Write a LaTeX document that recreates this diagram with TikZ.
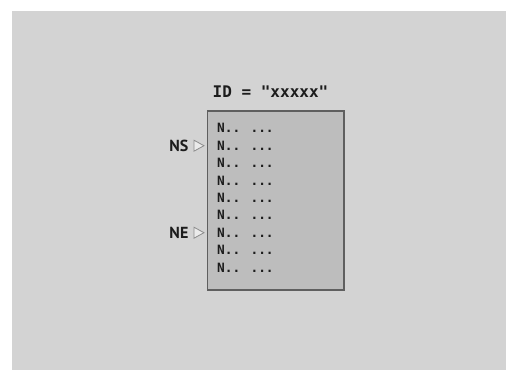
\documentclass[tikz,border=0pt]{standalone}
\usepackage{fontspec}
\usepackage{xcolor}
\usepackage{tikz}
\usetikzlibrary{positioning,shapes.geometric}
\newfontfamily\prgmono{DejaVu Sans Mono}
\newfontfamily\labsans{PT Sans}
\definecolor{bggray}{HTML}{D3D3D3}
\definecolor{boxgray}{HTML}{BDBDBD}
\definecolor{edgegray}{HTML}{5F5F5F}
\definecolor{inkgray}{HTML}{1C1C1C}
\definecolor{markgray}{HTML}{8C8C8C}

\begin{document}
\begin{tikzpicture}[
    x=1pt,y=-1pt,
    prgbox/.style={draw=edgegray,line width=1.3pt,fill=boxgray,minimum width=136.5pt,minimum height=179pt,inner sep=0pt},
    prgline/.style={inner sep=0pt,anchor=west,text=inkgray,font=\prgmono\bfseries\fontsize{12.8pt}{14pt}\selectfont},
    title/.style={inner sep=0pt,text=inkgray,font=\prgmono\bfseries\fontsize{16pt}{18pt}\selectfont},
    marker/.style={isosceles triangle,isosceles triangle stretches,draw=markgray,fill=white!92!black,line width=0.8pt,minimum width=11pt,minimum height=10pt,inner sep=0pt},
    tag/.style={inner sep=0pt,text=inkgray,font=\labsans\bfseries\fontsize{16pt}{18pt}\selectfont}
  ]
    \useasboundingbox (0,0) rectangle (506,370);
    \fill[bggray] (12,11) rectangle (506,370);

    \node[prgbox] (prog) at (275.75,200.5) {};
    \node[title] (ident) at (270.5,91.5) {ID = "xxxxx"};

    % program lines
    \foreach \i in {1,...,9}
      \node[prgline] (l\i) at (217,{128.3+(\i-1)*17.4}) {N.. ...};

    \node[marker,left=12pt of l2] (nsmark) {};
    \node[tag,left=5pt of nsmark] (ns) {NS};
    \node[marker,left=12pt of l7] (nemark) {};
    \node[tag,left=5pt of nemark] (ne) {NE};
  \end{tikzpicture}
\end{document}
